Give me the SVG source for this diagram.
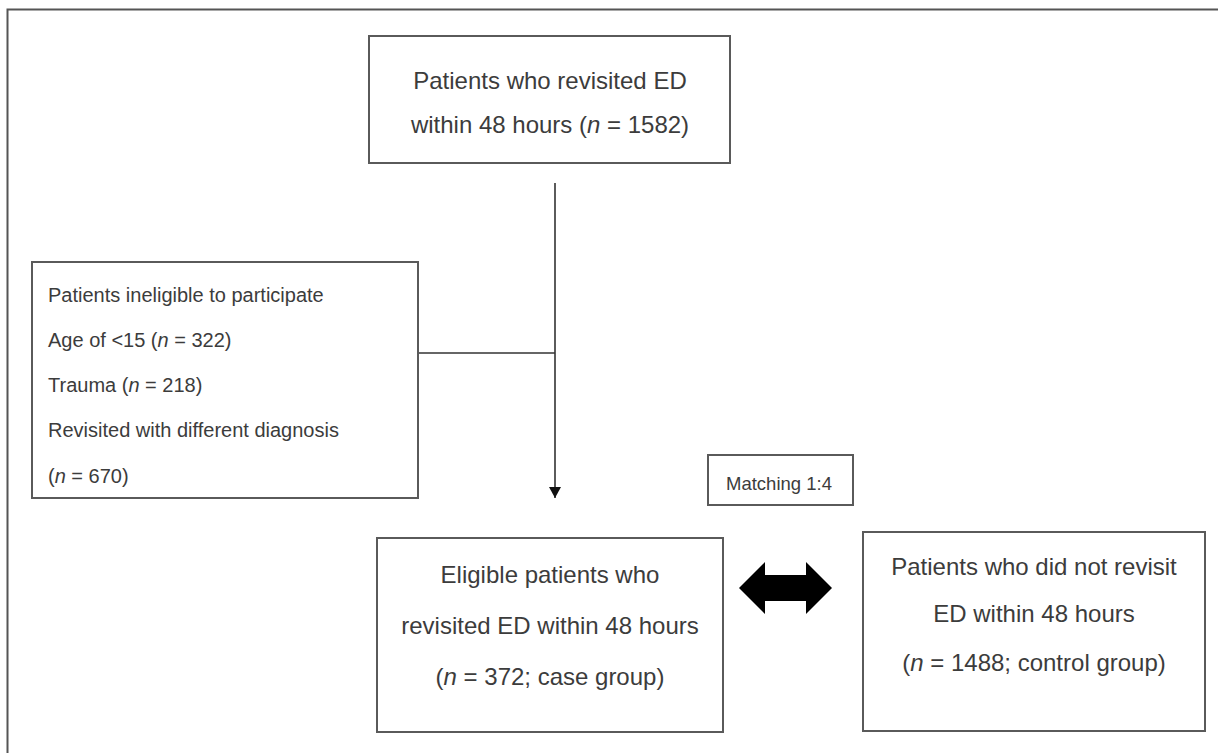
<svg xmlns="http://www.w3.org/2000/svg" width="1218" height="753" viewBox="0 0 1218 753">
<style>
.box{fill:#fff;stroke:#5a5a5a;stroke-width:2}
.t{font-family:"Liberation Sans",Arial,sans-serif;fill:#3c3c3c}
.m{font-size:24px;text-anchor:middle}
.s{font-size:20px}
.i{font-style:italic}
.ln{stroke:#333;stroke-width:1.6;fill:none}
</style>
<defs>
<marker id="ah" markerWidth="12" markerHeight="12" refX="11" refY="6" orient="auto" markerUnits="userSpaceOnUse">
<path d="M0,0 L11,6 L0,12 Z" fill="#111"/>
</marker>
</defs>
<rect x="0" y="0" width="1218" height="753" fill="#fff"/>
<rect id="frame" x="7.5" y="9.5" width="1230" height="770" fill="none" stroke="#555" stroke-width="2"/>
<g id="connectors">
<line class="ln" x1="555" y1="183" x2="555" y2="498" marker-end="url(#ah)"/>
<line class="ln" x1="419" y1="353" x2="555" y2="353"/>
<polygon points="739,588 765,562 765,575 806,575 806,562 832,588 806,614 806,601 765,601 765,614" fill="#000"/>
</g>
<g id="n-top">
<rect class="box" x="369" y="36" width="361" height="127"/>
<text class="t m" x="550" y="89">Patients who revisited ED</text>
<text class="t m" x="550" y="133">within 48 hours (<tspan class="i">n</tspan> = 1582)</text>
</g>
<g id="n-excluded">
<rect class="box" x="32" y="262" width="386" height="236"/>
<text class="t s" x="48" y="302">Patients ineligible to participate</text>
<text class="t s" x="48" y="347">Age of &lt;15 (<tspan class="i">n</tspan> = 322)</text>
<text class="t s" x="48" y="392">Trauma (<tspan class="i">n</tspan> = 218)</text>
<text class="t s" x="48" y="437">Revisited with different diagnosis</text>
<text class="t s" x="48" y="483">(<tspan class="i">n</tspan> = 670)</text>
</g>
<g id="n-matching">
<rect class="box" x="708" y="455" width="145" height="50"/>
<text class="t" x="779" y="490" font-size="18.5" text-anchor="middle">Matching 1:4</text>
</g>
<g id="n-case">
<rect class="box" x="377" y="538" width="346" height="194"/>
<text class="t m" x="550" y="583">Eligible patients who</text>
<text class="t m" x="550" y="634">revisited ED within 48 hours</text>
<text class="t m" x="550" y="685">(<tspan class="i">n</tspan> = 372; case group)</text>
</g>
<g id="n-control">
<rect class="box" x="863" y="532" width="342" height="199"/>
<text class="t m" x="1034" y="575">Patients who did not revisit</text>
<text class="t m" x="1034" y="622">ED within 48 hours</text>
<text class="t m" x="1034" y="671">(<tspan class="i">n</tspan> = 1488; control group)</text>
</g>
</svg>
